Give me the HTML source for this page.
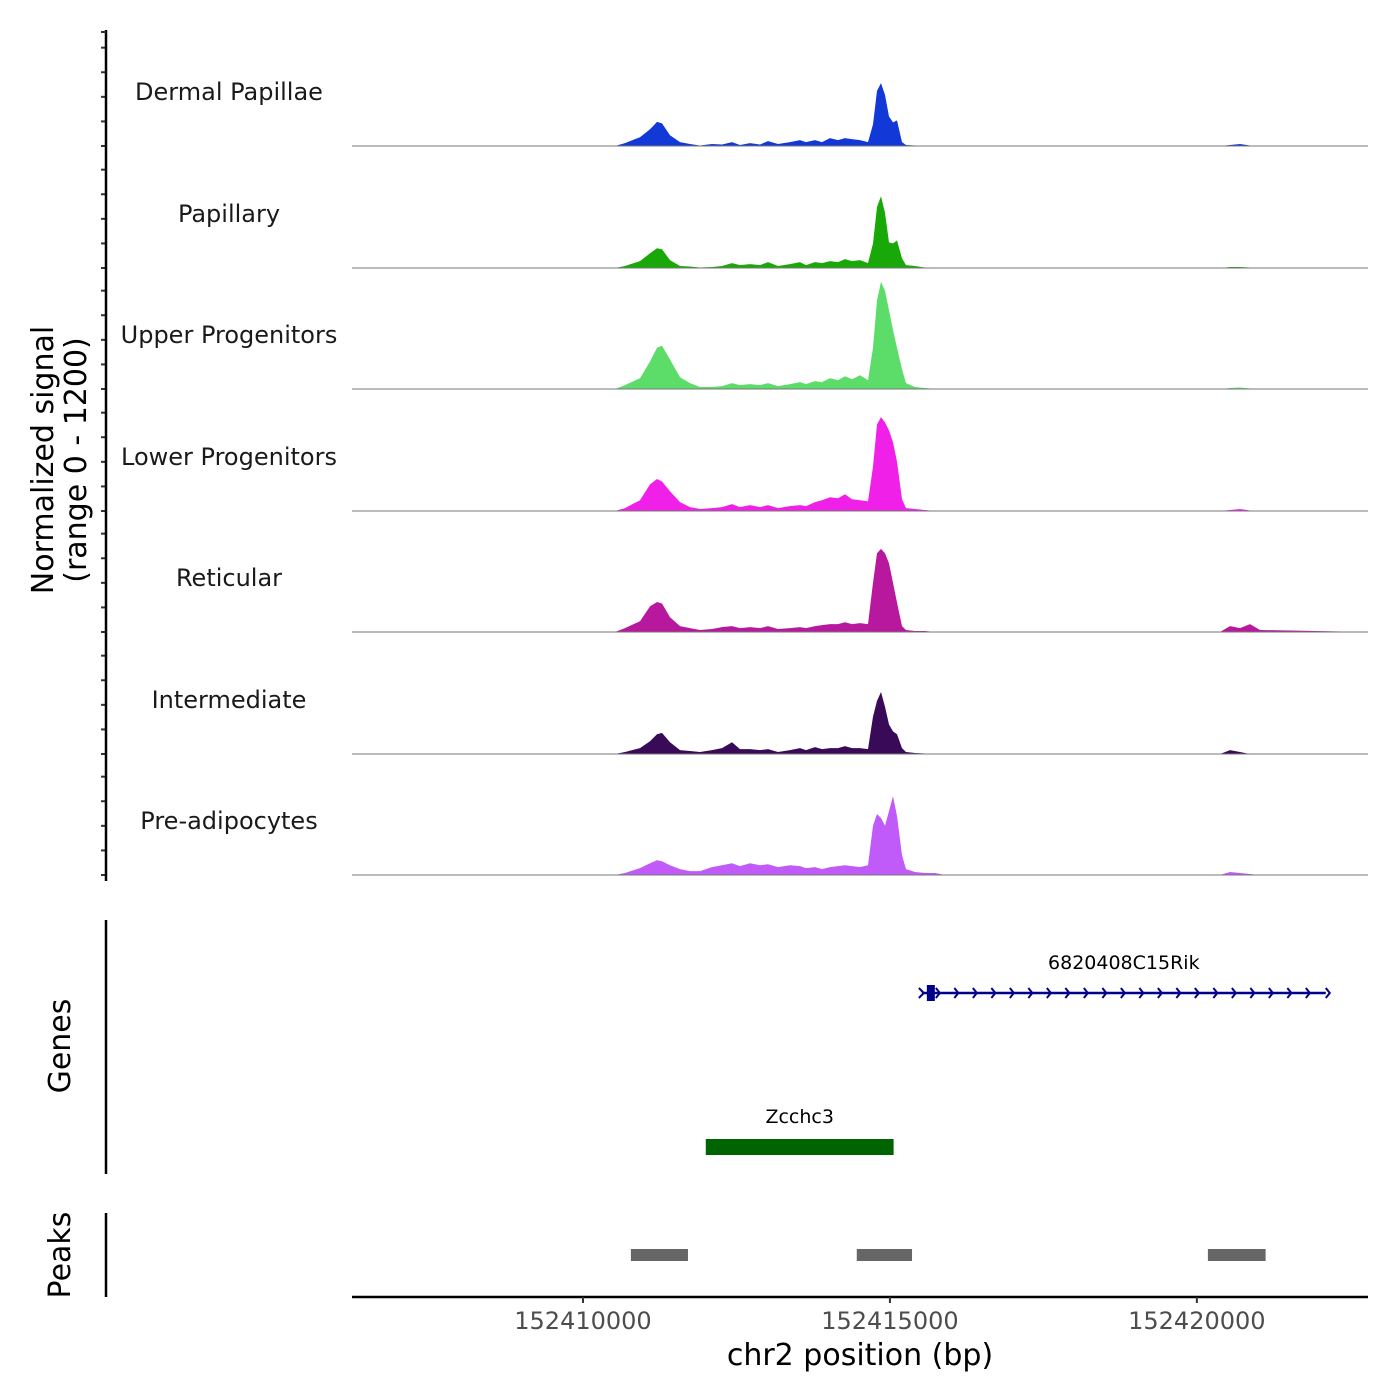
<!DOCTYPE html>
<html><head><meta charset="utf-8">
<style>
html,body{margin:0;padding:0;background:#fff;}
svg{display:block;font-family:"DejaVu Sans","Liberation Sans",sans-serif;}
</style></head>
<body>
<svg id="chart" width="1400" height="1400" viewBox="0 0 1400 1400"></svg>
<script>
const positions = [152406237,152410521,152410684,152410929,152411091,152411205,152411287,152411417,152411580,152411743,152411906,152412101,152412264,152412427,152412558,152412720,152412883,152413014,152413177,152413372,152413535,152413633,152413779,152413893,152414024,152414154,152414268,152414382,152414512,152414643,152414724,152414789,152414854,152414920,152414985,152415050,152415115,152415197,152415262,152415408,152415571,152415734,152415897,152420377,152420540,152420703,152420865,152421028,152422788];
const trackNames = ["Dermal Papillae","Papillary","Upper Progenitors","Lower Progenitors","Reticular","Intermediate","Pre-adipocytes"];
const trackColors = ["#1238d8","#18a808","#5cdd6a","#f020e8","#b8189e","#380a58","#c05af8"];
const dermalPapillae = [0,0,30,90,170,245,230,110,40,20,5,20,15,40,10,30,15,50,20,40,60,40,60,40,80,60,80,70,60,40,220,560,640,520,300,240,260,40,10,5,5,0,0,0,10,20,5,0,0];
const papillary = [0,0,20,70,150,200,190,80,20,15,5,10,20,50,30,40,30,60,20,40,60,30,60,50,70,60,90,70,80,50,250,620,730,560,260,250,280,100,30,20,5,0,0,0,10,10,5,0,0];
const upperProgenitors = [0,0,40,110,280,420,440,300,120,60,20,20,30,60,40,50,40,60,30,50,70,50,80,70,110,90,130,100,140,90,420,900,1090,1000,800,600,420,200,60,20,10,0,0,0,10,15,5,0,0];
const lowerProgenitors = [0,0,30,110,270,325,300,200,90,40,20,30,40,70,40,60,40,60,30,50,60,50,90,110,140,130,170,120,110,100,450,880,955,900,820,700,500,120,30,20,10,0,0,0,10,20,5,0,0];
const reticular = [0,0,40,110,260,305,290,150,60,40,20,30,50,60,40,50,40,60,30,40,50,40,60,70,80,80,100,80,90,80,500,800,845,800,700,500,300,60,20,10,10,0,0,0,60,40,80,20,0,0];
const intermediate = [0,0,20,60,130,200,215,120,40,30,20,40,60,120,50,50,40,50,20,40,60,40,70,50,60,60,80,60,60,50,380,540,630,480,300,230,200,60,20,10,5,0,0,0,40,20,0,0,0];
const preAdipocytes = [0,0,20,70,120,150,140,100,60,40,40,80,100,120,90,120,100,110,80,100,90,70,80,60,80,90,100,90,80,100,500,620,580,500,650,800,600,200,60,30,20,20,0,0,30,20,10,0,0];
const trackValues = [dermalPapillae,papillary,upperProgenitors,lowerProgenitors,reticular,intermediate,preAdipocytes];
const xTicks = [152410000,152415000,152420000];
const yTickValues = [0,250,500,750,1000];
const peakStarts = [152410780,152414460,152420180];
const peakEnds = [152411710,152415360,152421120];
const genes = [
  {name:"6820408C15Rik", start:152415520, end:152422100, strand:"+", color:"#00008b", row:0},
  {name:"Zcchc3", start:152412000, end:152415060, strand:"+", color:"#006400", row:1}
];

const NS="http://www.w3.org/2000/svg";
const svg=document.getElementById('chart');
const X0=352,X1=1368,D0=152406237,D1=152422788;
const xs=v=>X0+(v-D0)/(D1-D0)*(X1-X0);
const baselines=[146,268,389,511,632,754,875];
const ys=(v,t)=>baselines[t]-v/1200*118;
function el(tag,attrs,parent){const e=document.createElementNS(NS,tag);for(const k in attrs)e.setAttribute(k,attrs[k]);(parent||svg).appendChild(e);return e;}

for(let t=0;t<7;t++){
  const g=el('g',{});
  
  
  let d='M'+xs(positions[0])+','+baselines[t];
  positions.forEach((p,i)=>{d+='L'+xs(p).toFixed(1)+','+ys(trackValues[t][i],t).toFixed(1);});
  d+='L'+xs(positions[positions.length-1])+','+baselines[t]+'Z';
  const a=el('path',{d:d,fill:trackColors[t],stroke:'none'},g);
  
  
  const b=el('line',{x1:X0,x2:X1,y1:baselines[t],y2:baselines[t],stroke:'#777','stroke-width':1},g);
  
  
  const lab=el('text',{x:229,y:baselines[t]-46,'text-anchor':'middle','font-size':24,fill:'#1a1a1a'},g);
  lab.textContent=trackNames[t];
  
  
  yTickValues.forEach(v=>{
    const tk=el('line',{x1:101,x2:106,y1:ys(v,t),y2:ys(v,t),stroke:'#333','stroke-width':2},g);
    
    
  });
}
const ya=el('line',{x1:106,x2:106,y1:30,y2:881,stroke:'#000','stroke-width':2.5});


const tt=el('line',{x1:101,x2:106,y1:32,y2:32,stroke:'#333','stroke-width':2});


const yt=el('text',{transform:'translate(53,460) rotate(-90)','text-anchor':'middle','font-size':30,fill:'#000'});


const t1=el('tspan',{x:0,y:0},yt);t1.textContent='Normalized signal';
const t2=el('tspan',{x:0,y:33},yt);t2.textContent='(range 0 - 1200)';

const ga=el('line',{x1:106,x2:106,y1:920,y2:1174,stroke:'#000','stroke-width':2.5});


const gt=el('text',{transform:'translate(70,1046) rotate(-90)','text-anchor':'middle','font-size':30,fill:'#000'});
gt.textContent='Genes';


genes.forEach(g=>{
  const gg=el('g',{});
  
  
  const y=g.row===0?993:1147;
  const x1=xs(g.start),x2=xs(g.end);
  if(g.row===0){
    el('line',{x1:x1,x2:x2,y1:y,y2:y,stroke:g.color,'stroke-width':2.5},gg);
    el('rect',{x:x1+5,y:y-8,width:8,height:16,fill:g.color},gg);
    for(let x=x1+18;x<x2;x+=18.5){
      el('path',{d:`M${x-4},${y-5}L${x},${y}L${x-4},${y+5}`,stroke:g.color,'stroke-width':2,fill:'none'},gg);
    }
    el('path',{d:`M${x2},${y-5}L${x2+4},${y}L${x2},${y+5}`,stroke:g.color,'stroke-width':2,fill:'none'},gg);
    el('path',{d:`M${x1-3},${y-5}L${x1+2},${y}L${x1-3},${y+5}`,stroke:g.color,'stroke-width':2,fill:'none'},gg);
  } else {
    el('rect',{x:x1,y:y-8,width:x2-x1,height:16,fill:g.color},gg);
  }
  const lt=el('text',{x:(x1+x2)/2,y:y-24,'text-anchor':'middle','font-size':19,fill:'#000'},gg);
  lt.textContent=g.name;
});

const pa=el('line',{x1:106,x2:106,y1:1213,y2:1297,stroke:'#000','stroke-width':2.5});


const pt=el('text',{transform:'translate(70,1255) rotate(-90)','text-anchor':'middle','font-size':30,fill:'#000'});
pt.textContent='Peaks';


peakStarts.forEach((s,i)=>{
  const r=el('rect',{x:xs(s),y:1249,width:xs(peakEnds[i])-xs(s),height:12,fill:'#666'});
  
  
});

const xa=el('line',{x1:X0,x2:X1,y1:1297,y2:1297,stroke:'#000','stroke-width':2.5});


xTicks.forEach(v=>{
  const tk=el('line',{x1:xs(v),x2:xs(v),y1:1297,y2:1303,stroke:'#333','stroke-width':2});
  
  
  const tl=el('text',{x:xs(v),y:1329,'text-anchor':'middle','font-size':24,fill:'#4d4d4d'});
  tl.textContent=String(v);
  
  
});
const xt=el('text',{x:860,y:1365,'text-anchor':'middle','font-size':30,fill:'#000'});
xt.textContent='chr2 position (bp)';


</script>
</body></html>
